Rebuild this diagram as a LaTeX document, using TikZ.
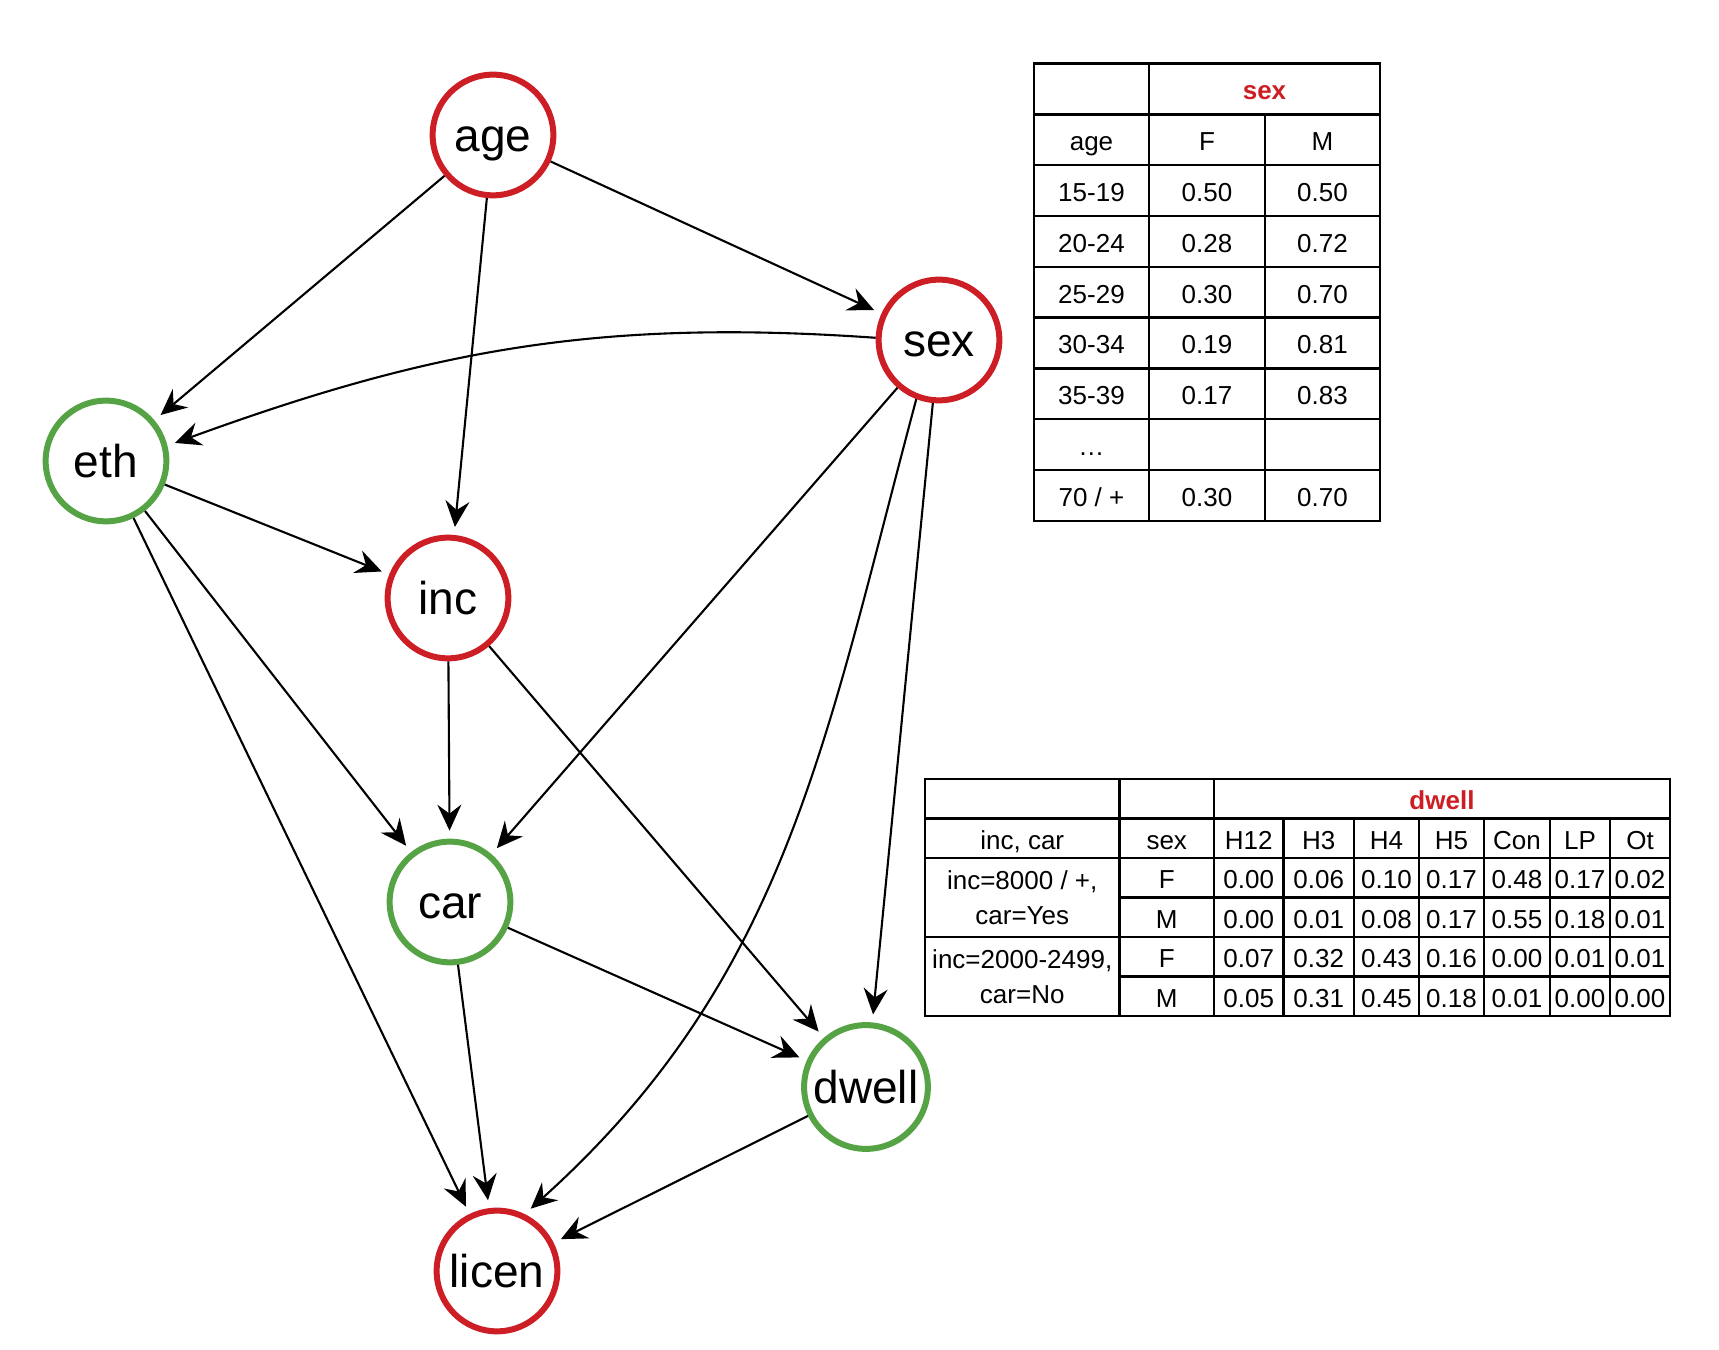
\documentclass[tikz,border=0pt]{standalone}
\usepackage{fontspec}
\setmainfont{Liberation Sans}
\definecolor{RedVar}{RGB}{204,30,36}
\definecolor{GreenVar}{RGB}{86,163,70}
\usepackage{tikz}
\usetikzlibrary{arrows.meta, positioning, calc}

\begin{document}
\begin{tikzpicture}[
    var/.style={circle, line width=0.06cm, minimum size=1.207cm, inner sep=0pt,
                font=\fontsize{13.1pt}{15pt}\selectfont, text height=0.5cm, text depth=0.16cm},
    redvar/.style={var, draw=RedVar},
    greenvar/.style={var, draw=GreenVar},
    dep/.style={line width=0.021cm, shorten >=0.08cm,
                -{Stealth[length=0.26cm, width=0.24cm, inset=0.09cm]}},
    tabline/.style={line width=0.024cm},
    cell/.style={inner sep=0pt, font=\fontsize{7.4pt}{9.96pt}\selectfont,
                 text height=0.24cm, text depth=0.02cm},
    tabhead/.style={cell, text=RedVar, font=\fontsize{7.4pt}{9.96pt}\selectfont\bfseries},
    groupcell/.style={inner sep=0pt, align=center, font=\fontsize{7.4pt}{9.96pt}\selectfont}
  ]
  \useasboundingbox (0,0) rectangle (17.19,13.5);

  \node[redvar]   (age)   at (4.93,12.15) {age};
  \node[redvar]   (sex)   at (9.39,10.10) {sex};
  \node[greenvar] (eth)   at (1.06,8.89)  {eth};
  \node[redvar]   (inc)   at (4.48,7.52)  {inc};
  \node[greenvar] (car)   at (4.50,4.48)  {car};
  \node[greenvar] (dwell) at (8.66,2.63)  {dwell};
  \node[redvar]   (licen) at (4.97,0.79)  {licen};

  \draw[dep] (age) -- (eth);
  \draw[dep] (age) -- (inc);
  \draw[dep] (age) -- (sex);
  \draw[dep] (sex.178) to[out=176, in=20] (eth.14);
  \draw[dep] (eth) -- (inc);
  \draw[dep] (eth) -- (car);
  \draw[dep] (eth) -- (licen);
  \draw[dep] (sex) -- (car);
  \draw[dep] (sex.249) to[out=255, in=42] (licen.64);
  \draw[dep] (sex) -- (dwell);
  \draw[dep] (inc) -- (car);
  \draw[dep] (inc) -- (dwell);
  \draw[dep] (car) -- (dwell);
  \draw[dep] (car) -- (licen);
  \draw[dep] (dwell) -- (licen);

  \draw[tabline] (10.34,8.292) rectangle (13.80,12.864);
  \foreach \r in {1,...,8}
    \draw[tabline] (10.34,{12.864-0.508*\r}) -- (13.80,{12.864-0.508*\r});
  \draw[tabline] (11.49,8.292) -- (11.49,12.864);
  \draw[tabline] (12.65,8.292) -- (12.65,12.356);
  \node[tabhead] (sexhead) at (12.645,12.61) {sex};
  \foreach \lab/\fval/\mval [count=\r] in {age/F/M, 15-19/0.50/0.50, 20-24/0.28/0.72,
      25-29/0.30/0.70, 30-34/0.19/0.81, 35-39/0.17/0.83} {
    \node[cell] (agecol-\r) at (10.915,{12.864-0.508*(\r+0.5)}) {\lab};
    \node[cell] (fcol-\r)   at (12.07,{12.864-0.508*(\r+0.5)})  {\fval};
    \node[cell] (mcol-\r)   at (13.225,{12.864-0.508*(\r+0.5)}) {\mval};
  }
  \node[cell] (agecol-7) at (10.915,9.054) {…};
  \node[cell] (agecol-8) at (10.915,8.546) {70 / +};
  \node[cell] (fcol-8)   at (12.07,8.546)  {0.30};
  \node[cell] (mcol-8)   at (13.225,8.546) {0.70};

  \draw[tabline] (9.25,3.34) rectangle (16.70,5.71);
  \draw[tabline] (9.25,5.315) -- (16.70,5.315);
  \draw[tabline] (9.25,4.92) -- (16.70,4.92);
  \draw[tabline] (9.25,4.13) -- (16.70,4.13);
  \draw[tabline] (11.195,4.525) -- (16.70,4.525);
  \draw[tabline] (11.195,3.735) -- (16.70,3.735);
  \draw[tabline] (11.195,3.34) -- (11.195,5.71);
  \draw[tabline] (12.14,3.34) -- (12.14,5.71);
  \foreach \x in {12.835,13.54,14.19,14.84,15.50,16.10}
    \draw[tabline] (\x,3.34) -- (\x,5.315);
  \node[tabhead] (dwellhead) at (14.42,5.5125) {dwell};
  \node[cell] (inccar) at (10.2225,5.1175) {inc, car};
  \node[cell] (sexcol) at (11.6675,5.1175) {sex};
  \foreach \h/\x [count=\c] in {H12/12.4875, H3/13.1875, H4/13.865, H5/14.515,
      Con/15.17, LP/15.80, Ot/16.40}
    \node[cell] (hcol-\c) at (\x,5.1175) {\h};
  \node[groupcell] (group-1) at (10.2225,4.525) {inc=8000 / +,\\car=Yes};
  \node[groupcell] (group-2) at (10.2225,3.735) {inc=2000-2499,\\car=No};
  \foreach \s/\vals [count=\r] in {F/{0.00,0.06,0.10,0.17,0.48,0.17,0.02},
      M/{0.00,0.01,0.08,0.17,0.55,0.18,0.01}, F/{0.07,0.32,0.43,0.16,0.00,0.01,0.01},
      M/{0.05,0.31,0.45,0.18,0.01,0.00,0.00}} {
    \node[cell] (scol-\r) at (11.6675,{4.92-0.395*(\r-0.5)}) {\s};
    \foreach \v [count=\c] in \vals {
      \pgfmathsetmacro\cx{{12.4875,13.1875,13.865,14.515,15.17,15.80,16.40}[\c-1]}
      \node[cell] (val-\r-\c) at (\cx,{4.92-0.395*(\r-0.5)}) {\v};
    }
  }
\end{tikzpicture}
\end{document}
